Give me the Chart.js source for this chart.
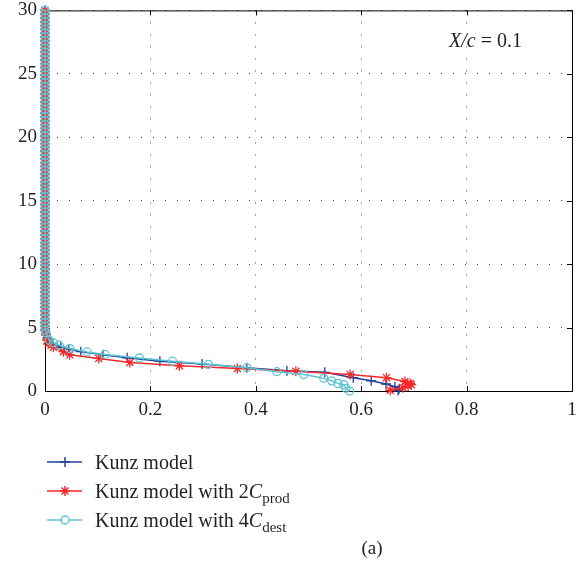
<!DOCTYPE html>
<html>
<head>
<meta charset="utf-8">
<script src="https://cdn.jsdelivr.net/npm/chart.js@4/dist/chart.umd.min.js"></script>
<style>
  html, body { margin: 0; padding: 0; background: #fff; }
  #wrap { width: 587px; height: 575px; overflow: hidden; position: relative; }
  #profile { position: absolute; left: 0; top: -9px; }
</style>
</head>
<body>
<div id="wrap"><canvas id="profile" width="587" height="584"></canvas></div>
<script>
// markers stacked along the wall (x = 0)
let WALL_Y = [
    30.0, 29.7, 29.4, 29.1, 28.8, 28.5, 28.2, 27.9, 27.6, 27.3, 27.0, 26.7, 26.4, 26.1,
    25.8, 25.5, 25.2, 24.9, 24.6, 24.3, 24.0, 23.7, 23.4, 23.1, 22.8, 22.5, 22.2, 21.9,
    21.6, 21.3, 21.0, 20.7, 20.4, 20.1, 19.8, 19.5, 19.2, 18.9, 18.6, 18.3, 18.0, 17.7,
    17.4, 17.1, 16.8, 16.5, 16.2, 15.9, 15.6, 15.3, 15.0, 14.7, 14.4, 14.1, 13.8, 13.5,
    13.2, 12.9, 12.6, 12.3, 12.0, 11.7, 11.4, 11.1, 10.8, 10.5, 10.2, 9.9, 9.6, 9.3,
    9.0, 8.7, 8.4, 8.1, 7.8, 7.5, 7.2, 6.9, 6.6, 6.3, 6.0, 5.7, 5.4, 5.1, 4.8
];

// Kunz model
let KUNZ_X = [0.002, 0.006, 0.015, 0.03, 0.045, 0.068, 0.11, 0.156, 0.218, 0.298, 0.383, 0.459, 0.531, 0.585, 0.619, 0.647, 0.664, 0.672, 0.67];
let KUNZ_Y = [4.5, 4.1, 3.75, 3.45, 3.3, 3.1, 2.85, 2.62, 2.35, 2.12, 1.83, 1.6, 1.47, 1.05, 0.8, 0.55, 0.34, 0.18, 0.03];

// Kunz model with 2 C_prod
let PROD_X = [0.002, 0.004, 0.006, 0.016, 0.035, 0.047, 0.102, 0.161, 0.255, 0.365, 0.476, 0.579, 0.648, 0.683, 0.693, 0.695, 0.689, 0.679, 0.655];
let PROD_Y = [4.4, 4.0, 3.7, 3.45, 3.1, 2.85, 2.57, 2.25, 1.99, 1.78, 1.55, 1.31, 1.05, 0.75, 0.6, 0.5, 0.39, 0.26, 0.06];

// Kunz model with 4 C_dest
let DEST_X = [0.002, 0.008, 0.016, 0.027, 0.047, 0.08, 0.114, 0.179, 0.242, 0.31, 0.383, 0.44, 0.491, 0.529, 0.544, 0.556, 0.567, 0.571, 0.578];
let DEST_Y = [4.6, 4.0, 3.8, 3.61, 3.35, 3.08, 2.88, 2.6, 2.35, 2.1, 1.83, 1.52, 1.3, 1.0, 0.8, 0.6, 0.5, 0.21, 0.0];

let X_TICKS = [0, 0.2, 0.4, 0.6, 0.8, 1];
let Y_TICKS = [0, 5, 10, 15, 20, 25, 30];

const COLOR_KUNZ = '#22409a';
const COLOR_PROD = '#f22a2a';
const COLOR_DEST = '#5cc6d6';
const SERIF = "'Liberation Serif', 'DejaVu Serif', serif";
const SHIFT = 9; // canvas sits 9px above the page top

function profile(xs, ys) {
    const wall = WALL_Y.map(y => ({ x: 0, y: y }));
    return wall.concat(xs.map((x, i) => ({ x: x, y: ys[i] })));
}

const SERIES = [
    { label: 'Kunz model', sub: '', color: COLOR_KUNZ, style: 'cross', radius: 5, data: profile(KUNZ_X, KUNZ_Y), order: 3 },
    { label: 'Kunz model with 2', sub: 'prod', color: COLOR_PROD, style: 'star', radius: 5, data: profile(PROD_X, PROD_Y), order: 2 },
    { label: 'Kunz model with 4', sub: 'dest', color: COLOR_DEST, style: 'circle', radius: 4, data: profile(DEST_X, DEST_Y), order: 1 }
];

const frame = {
    id: 'frame',
    beforeDatasetsDraw(chart) {
        const { ctx, chartArea: a, scales } = chart;
        ctx.save();
        ctx.strokeStyle = '#000';
        ctx.lineWidth = 1;
        ctx.strokeRect(a.left + 0.5, a.top + 0.5, a.right - a.left, a.bottom - a.top);
        ctx.beginPath();
        X_TICKS.forEach(v => {
            const px = Math.round(scales.x.getPixelForValue(v)) + 0.5;
            ctx.moveTo(px, a.bottom); ctx.lineTo(px, a.bottom - 5);
            ctx.moveTo(px, a.top); ctx.lineTo(px, a.top + 5);
        });
        Y_TICKS.forEach(v => {
            const py = Math.round(scales.y.getPixelForValue(v)) + 0.5;
            ctx.moveTo(a.left, py); ctx.lineTo(a.left + 5, py);
            ctx.moveTo(a.right, py); ctx.lineTo(a.right - 5, py);
        });
        ctx.stroke();
        ctx.restore();
    },
    afterDraw(chart) {
        const { ctx } = chart;
        ctx.save();
        ctx.translate(0, SHIFT);
        ctx.fillStyle = '#231f20';
        ctx.textBaseline = 'alphabetic';

        // annotation
        ctx.font = 'italic 20px ' + SERIF;
        ctx.fillText('X/c', 449, 47);
        let w = ctx.measureText('X/c').width;
        ctx.font = '20px ' + SERIF;
        ctx.fillText(' = 0.1', 449 + w, 47);

        // legend
        SERIES.forEach((s, i) => {
            const cy = 462 + i * 29;
            ctx.strokeStyle = s.color;
            ctx.lineWidth = 1.5;
            ctx.beginPath();
            ctx.moveTo(47, cy); ctx.lineTo(82, cy);
            ctx.stroke();
            ctx.fillStyle = s.style === 'circle' ? '#fff' : s.color;
            Chart.helpers.drawPoint(ctx, { pointStyle: s.style, radius: s.radius, rotation: 0, borderWidth: 1.3 }, 65, cy);

            ctx.fillStyle = '#231f20';
            ctx.font = '20px ' + SERIF;
            const base = cy + 7;
            ctx.fillText(s.label, 95, base);
            if (s.sub) {
                let x = 95 + ctx.measureText(s.label).width;
                ctx.font = 'italic 20px ' + SERIF;
                ctx.fillText('C', x, base);
                x += ctx.measureText('C').width;
                ctx.font = '15px ' + SERIF;
                ctx.fillText(s.sub, x, base + 5);
            }
        });

        ctx.font = '19px ' + SERIF;
        ctx.textAlign = 'center';
        ctx.fillText('(a)', 372, 554);
        ctx.restore();
    }
};

const ctx = document.getElementById('profile');

new Chart(ctx, {
    type: 'scatter',
    data: {
        datasets: SERIES.map(s => ({
            label: s.label,
            data: s.data,
            showLine: true,
            clip: 12,
            borderColor: s.color,
            backgroundColor: s.style === 'circle' ? 'rgba(0,0,0,0)' : s.color,
            borderWidth: 1.5,
            pointStyle: s.style,
            pointRadius: s.radius,
            pointBorderWidth: 1.3,
            pointBorderColor: s.color,
            pointBackgroundColor: s.style === 'circle' ? 'rgba(0,0,0,0)' : s.color,
            order: s.order
        }))
    },
    options: {
        responsive: false,
        animation: false,
        layout: { padding: { left: 0, top: 0, right: 15, bottom: 0 } },
        plugins: {
            legend: { display: false },
            tooltip: { enabled: false }
        },
        scales: {
            x: {
                type: 'linear',
                min: 0,
                max: 1,
                afterFit: scale => { scale.height = 184; },
                afterBuildTicks: scale => { scale.ticks = X_TICKS.map(v => ({ value: v })); },
                ticks: {
                    color: '#231f20', font: { family: SERIF, size: 19 }, padding: 8, maxRotation: 0,
                    callback: v => String(v)
                },
                grid: { color: '#444', lineWidth: 1, drawTicks: false },
                border: { display: false, dash: [1, 11] }
            },
            y: {
                type: 'linear',
                min: 0,
                max: 30,
                afterFit: scale => { scale.width = 45; },
                afterBuildTicks: scale => { scale.ticks = Y_TICKS.map(v => ({ value: v })); },
                ticks: { color: '#231f20', font: { family: SERIF, size: 19 }, padding: 8 },
                grid: { color: '#444', lineWidth: 1, drawTicks: false },
                border: { display: false, dash: [1, 11] }
            }
        }
    },
    plugins: [frame]
});
</script>
</body>
</html>
